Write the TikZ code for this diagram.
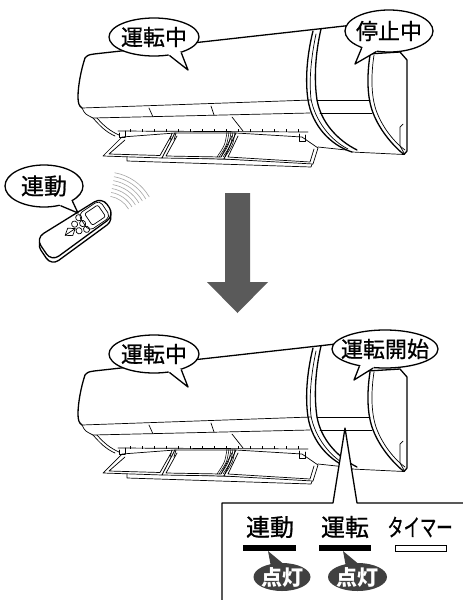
\documentclass[tikz,border=0pt]{standalone}
\usepackage{fontspec}
\usepackage{graphicx}
\newfontfamily\jp{Noto Sans CJK JP}[FakeBold=0.8]
\newfontfamily\jplamp{Noto Sans CJK JP}
\usetikzlibrary{shapes.geometric,calc}
\definecolor{arrowgray}{HTML}{5A5A5A}
\definecolor{lampgray}{HTML}{404040}

\tikzset{
  outline/.style={line width=1.3pt, line join=round, line cap=round},
  detail/.style={line width=0.7pt, line join=round, line cap=round},
  bubble/.style={ellipse, draw, line width=1.3pt, fill=white, inner sep=0pt},
  bubline/.style={line width=1.3pt, line join=round},
  bubtext/.style={font=\jp\fontsize{22}{22}\selectfont, inner sep=0pt},
  paneltext/.style={font=\jp\fontsize{24}{24}\selectfont, inner sep=0pt},
  lamp/.style={ellipse, fill=lampgray, inner sep=0pt, minimum width=57pt, minimum height=28pt},
  lamptext/.style={font=\jplamp\bfseries\fontsize{21}{21}\selectfont, text=white, inner sep=0pt},
  signal/.style={line width=0.6pt, gray!70},
  aircon/.pic={
    % front panel
    \draw[outline] (85,58) .. controls (88,55) .. (94,54) -- (318,29) -- (362,24);
    \draw[outline] (85,58) .. controls (81,70) and (78,86) .. (78,97)
                   .. controls (78,103) and (79,106) .. (82,108);
    \draw[detail] (82,108) -- (311,100);
    \draw[detail] (82,108) .. controls (85,114) .. (93,118) -- (310,113);
    \draw[detail] (149,108) -- (153,117) (211,106) -- (214,115);
    % lower left edge of the casing
    \draw[detail] (93,118) .. controls (100,126) and (106,132) .. (115,136);
    \draw[detail] (97,118) .. controls (104,126) and (110,131) .. (119,135);
    % hinge line with ticks
    \draw[detail] (118,131) -- (308,132);
    \foreach \t in {130,142,...,300} \draw[line width=0.5pt] (\t,131.5) -- (\t,129);
    \draw[detail] (232,117) -- (243,131);
    % bottom strip under the flaps
    \filldraw[detail, fill=white] (127,156) -- (127,161) -- (311,167) -- (313,162) -- cycle;
    % flaps
    \filldraw[detail, fill=white] (122,137) -- (103,156) -- (162,158) -- (175,133) -- cycle;
    \draw[detail] (125,140) -- (109,154) -- (160,155.5) -- (171,136);
    \filldraw[detail, fill=white] (175,133) -- (162,158) -- (224,159) -- (236,133) -- cycle;
    \draw[detail] (177,136) -- (166,156) -- (221,157) -- (232,136);
    \filldraw[detail, fill=white] (236,133) -- (224,159) -- (313,164) -- (318,148) -- (302,137) -- cycle;
    \draw[detail] (238,136) -- (228,157) -- (310,162) -- (314,149);
    % flap arms and brackets
    \foreach \d in {0,2,4,6,8}
      \draw[line width=0.55pt] (227+\d,132) .. controls (225+\d,145) .. (217+\d,157);
    \draw[detail] (119,133) -- (119,137) -- (125,137) (125,131) -- (125,137);
    \draw[detail] (172,133) -- (170,140) (176,133) -- (174,140);
    \draw[detail] (299,134) -- (299,141) -- (305,141) -- (305,135);
    \draw[detail] (318,147) -- (346,150);
    % curved band at the right end
    \draw[outline] (313,31) .. controls (307,55) and (305,80) .. (308,100)
                   .. controls (312,125) and (330,145) .. (352,152);
    \draw[detail] (316,34) .. controls (311,58) and (309,80) .. (311,99)
                   .. controls (315,120) and (330,140) .. (348,149);
    \draw[outline] (321,29) .. controls (315,55) and (314,80) .. (317,100)
                   .. controls (321,122) and (337,140) .. (357,150);
    % section between band and side panel
    \draw[detail] (317,100) -- (370,100);
    \draw[detail] (320,113) -- (372,113);
    \draw[detail] (352,152) -- (404,154.5);
    % side panel
    \draw[outline] (370,55) .. controls (367,75) and (367,95) .. (372,110)
                   .. controls (378,128) and (392,145) .. (404,154.5);
    \draw[detail] (374,55) .. controls (371,75) and (371,95) .. (376,110)
                   .. controls (382,127) and (394,142) .. (405,150);
    \draw[outline] (368,54) -- (400,52) -- (407,60) -- (407,151) -- (404,154.5);
    \draw[detail] (403,124) -- (400,127) -- (400,146) -- (404,153);
  }
}

% speech bubble: name, centre, width, height, text, tail angles, tail tip
\newcommand\speech[8]{%
  \node[bubble, minimum width=#3, minimum height=#4] (#1) at #2 {};
  \fill[white] ($(#1.#6)!0.15!(#1.center)$) -- (#1.#6) -- #8 -- (#1.#7)
               -- ($(#1.#7)!0.15!(#1.center)$) -- cycle;
  \draw[bubline] (#1.#6) -- #8 -- (#1.#7);
  \node[bubtext] (#1-text) at (#1.center) {#5};
}

\begin{document}
\begin{tikzpicture}[x=1pt,y=-1pt]
\useasboundingbox (0,0) rectangle (463,600);
\fill[white] (0,0) rectangle (463,600);

% upper unit
\pic at (0,0) {aircon};

% remote controller and its signal
\foreach \r in {26,30,...,50}
  \draw[signal] ([shift={(-30:\r)}]106,222) arc[start angle=-30, end angle=-80, radius=\r];
\begin{scope}[shift={(76,228)}, rotate=34]
  \filldraw[outline, fill=white, rounded corners=9pt, shift={(-2.5,3.5)}]
    (-39,-14) -- (39,-11) -- (39,11) -- (-39,14) -- cycle;
  \filldraw[outline, fill=white, rounded corners=9pt]
    (-39,-14) -- (39,-11) -- (39,11) -- (-39,14) -- cycle;
  \draw[detail, rounded corners=5pt] (9,-10) rectangle (35,10);
  \draw[detail, rounded corners=2pt] (15,-7) rectangle (31,7);
  \foreach \p in {(8,-7),(8,0),(8,7),(1,-4),(1,4)}
    \draw[detail] \p ellipse[x radius=3pt, y radius=3.2pt];
  \draw[detail] (-13,0) -- (-7,-4.5) -- (-1,0) -- (-7,4.5) -- cycle;
  \draw[detail] (-13,0) -- (-1,0);
\end{scope}

\speech{upperrun}{(154,37)}{90pt}{38pt}{運転中}{-50}{-30}{(188,70)}
\speech{upperstop}{(389,31)}{88pt}{42pt}{停止中}{-148}{-122}{(355,64)}
\speech{remote}{(44,186)}{78pt}{42pt}{\fontsize{23}{23}\selectfont 連動}{-50}{-28}{(78,213)}

% big downward arrow
\fill[arrowgray] (225,193) -- (250,193) -- (250,282) -- (268,282) -- (237.5,313)
                 -- (207,282) -- (225,282) -- cycle;

% lower unit
\pic at (0,317) {aircon};

\speech{lowerrun}{(154,354)}{90pt}{38pt}{運転中}{-50}{-30}{(188,387)}
\speech{lowerstart}{(385,349)}{106pt}{38pt}{運転開始}{-146}{-122}{(354,380)}

% indicator panel with pointer
\coordinate (apex) at (345,428);
\fill[white] (222,600) -- (222,503) -- (333,503) -- (apex) -- (357,503) -- (463,503)
             -- (463,600) -- cycle;
\draw[outline] (222,600) -- (222,503) -- (333,503) -- (apex) -- (357,503) -- (463,503);

\node[paneltext] (linked) at (270,527) {連動};
\node[paneltext] (running) at (345,527) {運転};
\node[paneltext] (timer) at (420,527) {\scalebox{0.68}[1]{タイマー}};
\fill (243,545) rectangle (296,551);
\fill (319,545) rectangle (371,551);
\draw[line width=0.8pt] (395,545) rectangle (446,551);

\node[lamp] (lamp1) at (282,577) {};
\fill[lampgray] (268,551) -- (286,566) -- (271,567) -- cycle;
\node[lamptext] (lamp1-text) at (lamp1.center) {点灯};
\node[lamp, minimum width=59pt] (lamp2) at (357.5,577) {};
\fill[lampgray] (343,551) -- (361,566) -- (346,567) -- cycle;
\node[lamptext] (lamp2-text) at (lamp2.center) {点灯};
\end{tikzpicture}
\end{document}
